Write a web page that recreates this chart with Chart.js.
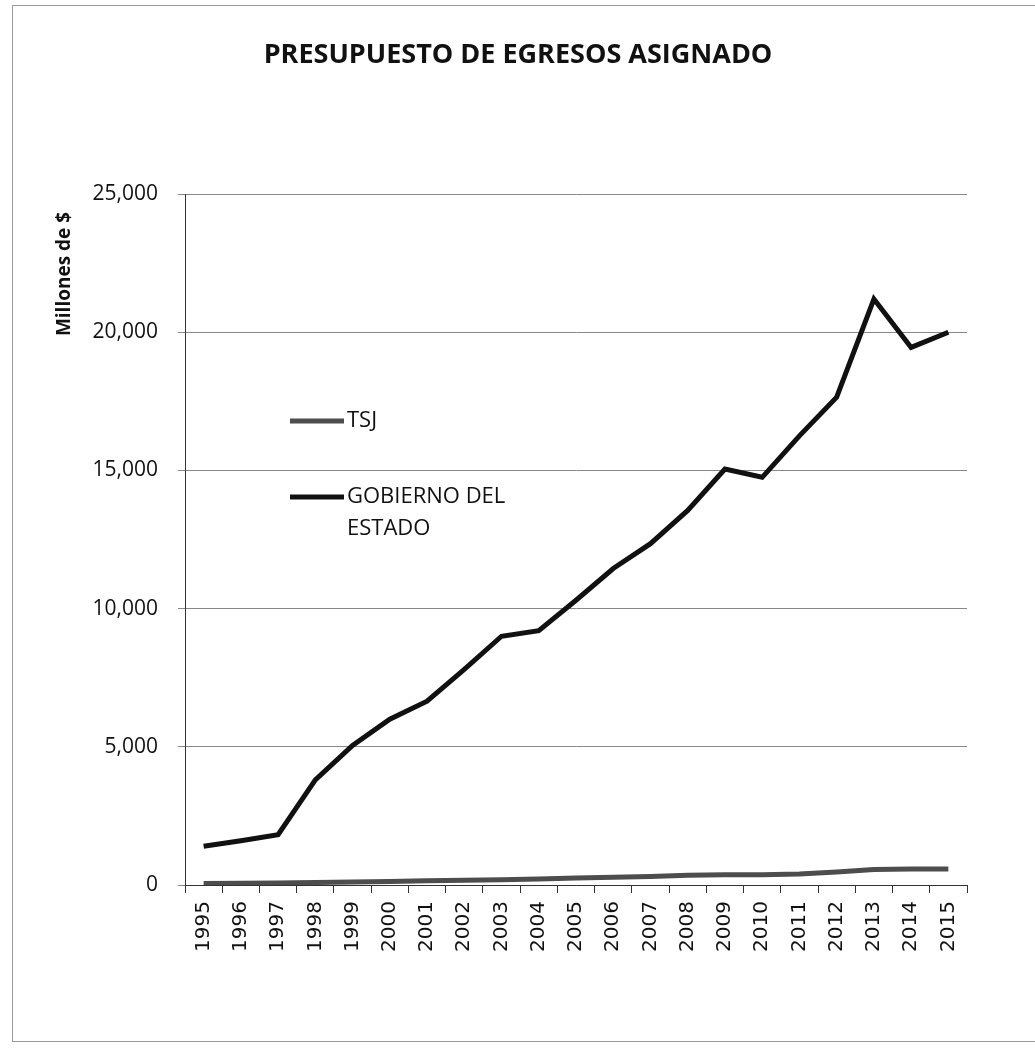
<!DOCTYPE html>
<html>
<head>
<meta charset="utf-8">
<script src="https://cdn.jsdelivr.net/npm/chart.js@4.4.1/dist/chart.umd.min.js"></script>
<style>
  html, body { margin: 0; padding: 0; background: #fff; }
  #wrap { width: 1035px; height: 1054px; position: relative; }
</style>
</head>
<body>
<div id="wrap"><canvas id="budgetChart"></canvas></div>
<script>
const years = ['1995', '1996', '1997', '1998', '1999', '2000', '2001', '2002', '2003', '2004', '2005',
  '2006', '2007', '2008', '2009', '2010', '2011', '2012', '2013', '2014', '2015'];
const gobiernoValues = [1400, 1600, 1820, 3800, 5050, 6000, 6650, 7800, 9000, 9200, 10300,
  11450, 12350, 13550, 15050, 14750, 16250, 17650, 21200, 19450, 20000];
const tsjValues = [50, 60, 70, 90, 110, 130, 150, 170, 190, 220, 250,
  280, 310, 350, 370, 370, 400, 470, 560, 580, 580];
const yTicks = [0, 5000, 10000, 15000, 20000, 25000];

const chartTitle = 'PRESUPUESTO DE EGRESOS ASIGNADO';
const yTitle = 'Millones de $';

// frame, title, axis title and the in-plot legend
const decorPlugin = {
  id: 'decor',
  beforeDraw(chart) {
    const ctx = chart.ctx;
    ctx.save();
    ctx.fillStyle = '#fff';
    ctx.fillRect(0, 0, chart.width, chart.height);
    ctx.strokeStyle = '#9a9a9a';
    ctx.lineWidth = 1;
    ctx.strokeRect(12.5, 5.5, 1030, 1036);
    ctx.restore();
  },
  afterDraw(chart) {
    const ctx = chart.ctx;
    ctx.save();
    ctx.fillStyle = '#111';
    ctx.textBaseline = 'middle';
    ctx.textAlign = 'center';
    ctx.font = 'bold 27px "Open Sans"';
    ctx.fillText(chartTitle, 518, 55);

    ctx.translate(65, 274);
    ctx.rotate(-Math.PI / 2);
    ctx.font = 'bold 19px "Open Sans"';
    ctx.fillText(yTitle, 0, 0);
    ctx.restore();

    ctx.save();
    const ds = chart.data.datasets;
    const rows = [
      { ds: ds[0], y: 421, lines: ['TSJ'] },
      { ds: ds[1], y: 497, lines: ['GOBIERNO DEL', 'ESTADO'] }
    ];
    ctx.font = '22px "Open Sans"';
    ctx.textBaseline = 'middle';
    ctx.textAlign = 'left';
    rows.forEach(r => {
      ctx.strokeStyle = r.ds.borderColor;
      ctx.lineWidth = r.ds.borderWidth;
      ctx.beginPath();
      ctx.moveTo(290, r.y);
      ctx.lineTo(344, r.y);
      ctx.stroke();
      ctx.fillStyle = '#111';
      r.lines.forEach((t, i) => ctx.fillText(t, 347, r.y + i * 32));
    });
    ctx.restore();
  }
};

new Chart(document.getElementById('budgetChart'), {
  type: 'line',
  data: {
    labels: years,
    datasets: [
      {
        label: 'TSJ',
        data: tsjValues,
        borderColor: '#4d4d4d',
        borderWidth: 5,
        pointRadius: 0,
        fill: false,
        tension: 0
      },
      {
        label: 'GOBIERNO DEL ESTADO',
        data: gobiernoValues,
        borderColor: '#111',
        borderWidth: 5,
        pointRadius: 0,
        fill: false,
        tension: 0
      }
    ]
  },
  options: {
    responsive: true,
    maintainAspectRatio: false,
    animation: false,
    layout: { padding: { top: 194, right: 68, bottom: 0, left: 0 } },
    plugins: {
      legend: { display: false },
      title: { display: false },
      tooltip: { enabled: false }
    },
    scales: {
      x: {
        offset: true,
        grid: { display: true, drawOnChartArea: false, offset: true, color: '#333', tickLength: 8 },
        border: { display: true, color: '#333' },
        ticks: {
          color: '#111',
          font: { family: 'DejaVu Sans', size: 20 },
          minRotation: 90,
          maxRotation: 90,
          autoSkip: false,
          padding: 8
        },
        afterFit: (scale) => { scale.height = 169; }
      },
      y: {
        min: 0,
        max: 25000,
        afterBuildTicks: (scale) => { scale.ticks = yTicks.map(v => ({ value: v })); },
        grid: { color: '#888', tickLength: 7 },
        border: { display: true, color: '#333' },
        ticks: {
          color: '#111',
          font: { family: 'Open Sans', size: 21 },
          padding: 20,
          callback: (v) => v.toLocaleString('en-US')
        },
        afterFit: (scale) => { scale.width = 185; }
      }
    }
  },
  plugins: [decorPlugin]
});
</script>
</body>
</html>
